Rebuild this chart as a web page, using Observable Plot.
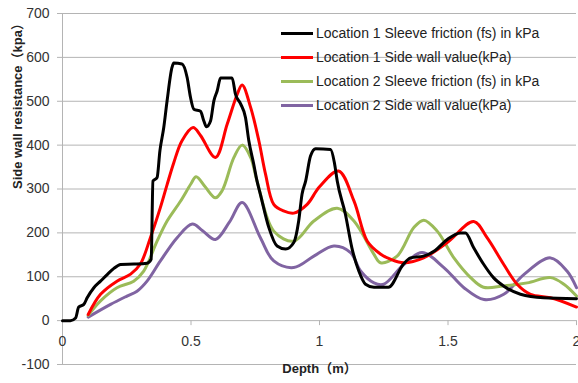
<!DOCTYPE html>
<html><head><meta charset="utf-8">
<script src="https://cdn.jsdelivr.net/npm/d3@7"></script>
<script src="https://cdn.jsdelivr.net/npm/@observablehq/plot@0.6"></script>
<style>
body{margin:0;background:#fff;}
#chart{position:relative;width:578px;height:383px;font-family:"Liberation Sans",Arial,"Noto Sans CJK SC",sans-serif;}
#legend{position:absolute;left:281px;top:21px;font-size:14px;color:#222;}
.row{display:flex;align-items:center;height:24px;white-space:nowrap;}
.sw{width:32px;height:3px;margin-right:3px;}
</style></head><body><div id="chart"></div>
<script>
const xTicks = [0, 0.5, 1, 1.5, 2];
const yTicks = [-100, 0, 100, 200, 300, 400, 500, 600, 700];
const xLabel = "Depth（m）";
const yLabel = "Side wall resistance（kpa）";
const seriesNames = [
  "Location 1 Sleeve friction (fs) in kPa",
  "Location 1 Side wall value(kPa)",
  "Location 2 Sleeve friction (fs) in kPa",
  "Location 2 Side wall value(kPa)"
];
const seriesColors = ["#000000", "#ff0000", "#9bbb59", "#8064a2"];

// [depth (m), value (kPa)]
const loc1Sleeve = [[0,0],[0.031,0],[0.051,6],[0.063,31],[0.083,37],[0.096,52],[0.122,75],[0.148,90],[0.174,105],[0.2,119],[0.226,128],[0.278,129],[0.329,131],[0.345,140],[0.352,318],[0.368,326],[0.379,387],[0.394,440],[0.407,501],[0.426,577],[0.433,587],[0.465,585],[0.485,554],[0.498,509],[0.511,482],[0.537,477],[0.55,455],[0.56,442],[0.576,455],[0.589,501],[0.602,524],[0.615,553],[0.66,553],[0.673,516],[0.693,494],[0.712,463],[0.725,410],[0.744,357],[0.757,318],[0.77,288],[0.803,212],[0.835,170],[0.868,163],[0.9,178],[0.919,227],[0.932,288],[0.946,318],[0.965,375],[0.985,392],[1.043,390],[1.058,360],[1.069,318],[1.101,242],[1.126,166],[1.153,113],[1.179,83],[1.212,76],[1.268,76],[1.327,129],[1.354,143],[1.405,147],[1.45,160],[1.497,185],[1.549,200],[1.568,200],[1.6,166],[1.638,129],[1.677,98],[1.716,79],[1.782,60],[1.872,52],[2.0,50]];
const loc1Wall = [[0.1,14],[0.148,60],[0.212,90],[0.265,106],[0.303,129],[0.342,189],[0.381,258],[0.407,310],[0.433,360],[0.465,410],[0.508,440],[0.537,422],[0.595,372],[0.641,448],[0.68,516],[0.699,537],[0.732,486],[0.764,410],[0.79,334],[0.822,265],[0.86,250],[0.9,245],[0.952,265],[1.0,305],[1.074,341],[1.134,273],[1.186,181],[1.237,152],[1.276,140],[1.328,132],[1.405,143],[1.497,178],[1.6,226],[1.652,189],[1.717,128],[1.769,83],[1.821,60],[1.899,52],[2.0,31]];
const loc2Sleeve = [[0.1,12],[0.148,45],[0.212,75],[0.277,90],[0.316,113],[0.368,181],[0.407,227],[0.459,272],[0.5,312],[0.52,328],[0.555,305],[0.595,280],[0.621,296],[0.667,372],[0.699,400],[0.732,372],[0.757,318],[0.822,204],[0.9,181],[0.978,227],[1.069,256],[1.134,227],[1.212,151],[1.237,132],[1.302,147],[1.367,212],[1.406,229],[1.458,204],[1.523,143],[1.588,98],[1.638,76],[1.716,79],[1.808,86],[1.899,98],[1.951,83],[2.0,56]];
const loc2Wall = [[0.1,8],[0.187,37],[0.251,56],[0.29,67],[0.329,90],[0.381,136],[0.446,189],[0.505,220],[0.545,205],[0.595,185],[0.65,225],[0.699,269],[0.77,189],[0.822,136],[0.9,121],[0.978,147],[1.056,170],[1.121,155],[1.16,113],[1.212,86],[1.25,83],[1.328,128],[1.399,155],[1.484,121],[1.562,75],[1.64,48],[1.717,60],[1.795,105],[1.899,143],[1.963,113],[2.0,75]];

const font = '"Liberation Sans", Arial, "Noto Sans CJK SC", sans-serif';
const labelFont = '"Liberation Sans", "Noto Sans CJK SC", sans-serif';
const grid = "#b4b4b4";
const lineOpts = (color, curve) => ({x: d => d[0], y: d => d[1], stroke: color, strokeWidth: 3, curve, strokeLinejoin: "round"});

const chart = Plot.plot({
  width: 578, height: 383,
  marginLeft: 62, marginRight: 2, marginTop: 13, marginBottom: 19,
  style: {fontFamily: font, fontSize: "14px", background: "#fff", overflow: "visible"},
  x: {domain: [0, 2], axis: null},
  y: {domain: [-100, 700], axis: null},
  marks: [
    Plot.ruleY(yTicks, {y: d => d, stroke: grid, insetLeft: -5}),
    Plot.ruleX([0], {stroke: grid}),
    Plot.ruleX(xTicks, {x: d => d, y1: 0, y2: 0, insetBottom: -5, stroke: grid}),
    Plot.text(yTicks, {x: 0, y: d => d, text: d => String(d), textAnchor: "end", dx: -13, fill: "#333", fontSize: 14}),
    Plot.text(xTicks, {x: d => d, y: 0, text: d => String(d), dy: 21, fill: "#333", fontSize: 14}),
    Plot.line(loc2Wall, lineOpts(seriesColors[3], "catmull-rom")),
    Plot.line(loc2Sleeve, lineOpts(seriesColors[2], "catmull-rom")),
    Plot.line(loc1Wall, lineOpts(seriesColors[1], "catmull-rom")),
    Plot.line(loc1Sleeve, lineOpts(seriesColors[0], "monotone-x")),
    Plot.text([xLabel], {frameAnchor: "bottom", dy: 8, fontWeight: "bold", fill: "#222", fontSize: 13, fontFamily: labelFont}),
    Plot.text([yLabel], {frameAnchor: "left", rotate: -90, dx: -45, fontWeight: "bold", fill: "#222", fontSize: 13, fontFamily: labelFont})
  ]
});
const root = document.getElementById("chart");
root.appendChild(chart);
const legend = document.createElement("div");
legend.id = "legend";
seriesNames.forEach((name, i) => {
  const row = document.createElement("div");
  row.className = "row";
  const sw = document.createElement("div");
  sw.className = "sw";
  sw.style.background = seriesColors[i];
  const t = document.createElement("span");
  t.textContent = name;
  row.appendChild(sw); row.appendChild(t);
  legend.appendChild(row);
});
root.appendChild(legend);
</script>
</body></html>
